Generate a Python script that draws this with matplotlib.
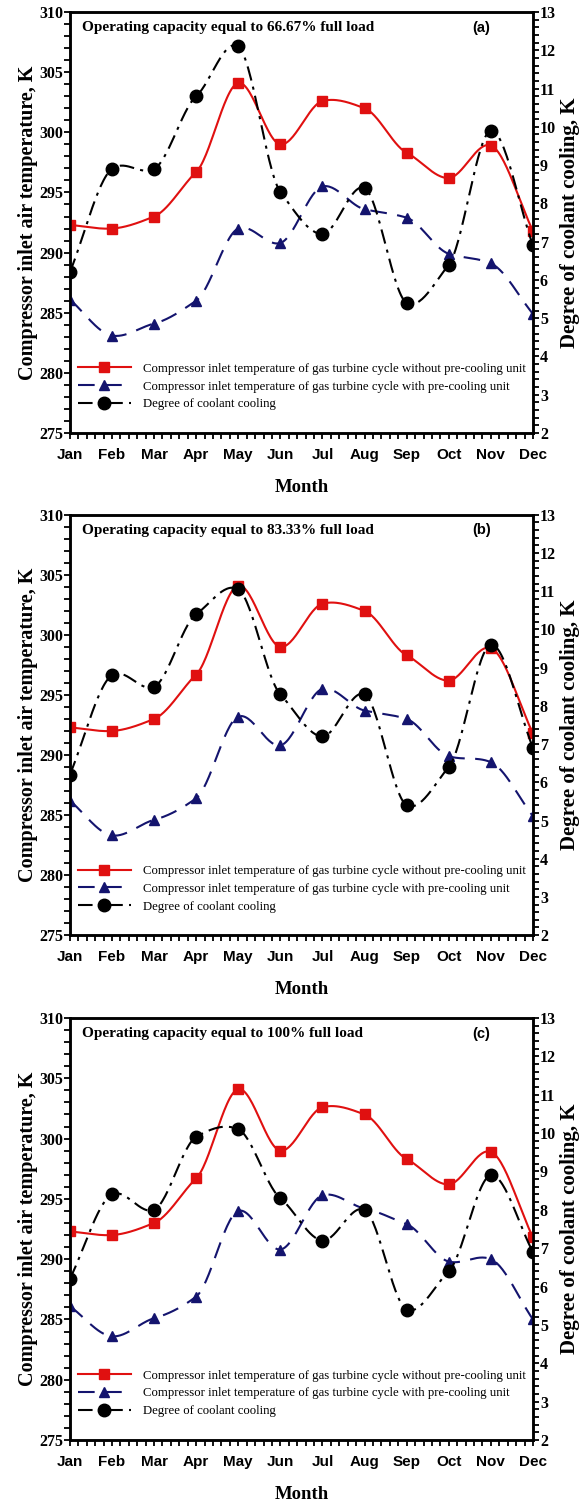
import matplotlib
matplotlib.use("Agg")
import matplotlib.pyplot as plt
import numpy as np
from matplotlib.ticker import MultipleLocator

months = ["Jan", "Feb", "Mar", "Apr", "May", "Jun", "Jul", "Aug", "Sep", "Oct", "Nov", "Dec"]
x = np.arange(1, 13)

# compressor inlet temperature without pre-cooling (same in all panels)
t_without = [292.3, 292.0, 293.0, 296.7, 304.1, 299.0, 302.6, 302.0, 298.3, 296.2, 298.9, 291.8]

# with pre-cooling unit
t_with_a = [286.1, 283.1, 284.1, 286.0, 292.0, 290.8, 295.5, 293.6, 292.9, 289.9, 289.1, 284.9]
t_with_b = [286.2, 283.3, 284.6, 286.4, 293.2, 290.8, 295.5, 293.7, 293.0, 289.9, 289.4, 284.9]
t_with_c = [286.1, 283.6, 285.1, 286.9, 294.0, 290.8, 295.3, 294.2, 292.9, 289.8, 290.0, 285.0]

# degree of coolant cooling
cool_a = [6.2, 8.9, 8.9, 10.8, 12.1, 8.3, 7.2, 8.4, 5.4, 6.4, 9.9, 6.9]
cool_b = [6.2, 8.8, 8.5, 10.4, 11.05, 8.3, 7.2, 8.3, 5.4, 6.4, 9.6, 6.9]
cool_c = [6.2, 8.4, 8.0, 9.9, 10.1, 8.3, 7.2, 8.0, 5.4, 6.4, 8.9, 6.9]

titles = ["Operating capacity equal to 66.67% full load",
          "Operating capacity equal to 83.33% full load",
          "Operating capacity equal to 100% full load"]
tags = ["(a)", "(b)", "(c)"]

RED = "#e01010"
NAVY = "#14146e"
SERIF = "Liberation Serif"
SANS = "Liberation Sans"


def smooth(xs, ys, c=0.6, n=30):
    # cardinal spline (Hermite segments) through the data points
    xs = np.asarray(xs, float)
    ys = np.asarray(ys, float)
    m = np.zeros_like(ys)
    m[1:-1] = c * (ys[2:] - ys[:-2]) / (xs[2:] - xs[:-2])
    m[0] = (ys[1] - ys[0]) / (xs[1] - xs[0])
    m[-1] = (ys[-1] - ys[-2]) / (xs[-1] - xs[-2])
    xo, yo = [], []
    for i in range(len(xs) - 1):
        h = xs[i + 1] - xs[i]
        t = np.linspace(0, 1, n, endpoint=(i == len(xs) - 2))
        h00 = 2 * t ** 3 - 3 * t ** 2 + 1
        h10 = t ** 3 - 2 * t ** 2 + t
        h01 = -2 * t ** 3 + 3 * t ** 2
        h11 = t ** 3 - t ** 2
        xo.append(xs[i] + t * h)
        yo.append(h00 * ys[i] + h10 * h * m[i] + h01 * ys[i + 1] + h11 * h * m[i + 1])
    return np.concatenate(xo), np.concatenate(yo)


fig = plt.figure(figsize=(5.87, 15.01), dpi=100)
boxes = [(0.119, 0.7115, 0.789, 0.2805),
         (0.119, 0.377, 0.789, 0.280),
         (0.119, 0.0406, 0.789, 0.2812)]
withs = [t_with_a, t_with_b, t_with_c]
cools = [cool_a, cool_b, cool_c]

for k in range(3):
    ax = fig.add_axes(boxes[k])
    ax2 = ax.twinx()

    xs, ys = smooth(x, t_without)
    ax.plot(xs, ys, color=RED, lw=1.5, zorder=3)
    ax.plot(x, t_without, ls="none", marker="s", ms=6.5, color=RED, zorder=4)

    xs, ys = smooth(x, withs[k])
    ax.plot(xs, ys, color=NAVY, lw=1.5, dashes=(8, 5), zorder=3)
    ax.plot(x, withs[k], ls="none", marker="^", ms=6.5, color=NAVY, zorder=4)

    xs, ys = smooth(x, cools[k])
    ax2.plot(xs, ys, color="black", lw=1.5, dashes=(7, 3, 1.5, 3), zorder=3)
    ax2.plot(x, cools[k], ls="none", marker="o", ms=9, color="black", zorder=4)

    ax.set_xlim(1, 12)
    ax.set_ylim(275, 310)
    ax2.set_ylim(2, 13)

    ax.yaxis.set_major_locator(MultipleLocator(5))
    ax.yaxis.set_minor_locator(MultipleLocator(1))
    ax2.yaxis.set_major_locator(MultipleLocator(1))
    ax2.yaxis.set_minor_locator(MultipleLocator(0.2))
    ax.set_xticks(x)
    ax.xaxis.set_minor_locator(MultipleLocator(0.2))
    ax.set_xticklabels(months, fontfamily=SANS, fontweight="bold", fontsize=11)

    for a_ in (ax, ax2):
        a_.tick_params(which="both", direction="out", width=1.3, length=4)
        for s in a_.spines.values():
            s.set_linewidth(1.8)
    ax.tick_params(axis="x", pad=7)
    ax.tick_params(axis="y", pad=1)
    ax2.tick_params(axis="y", pad=1)

    for lab in ax.get_yticklabels() + ax2.get_yticklabels():
        lab.set_fontfamily(SERIF)
        lab.set_fontweight("bold")
        lab.set_fontsize(11.5)

    ax.set_ylabel("Compressor inlet air temperature, K", fontfamily=SERIF,
                  fontweight="bold", fontsize=14.5, labelpad=1)
    ax2.set_ylabel("Degree of coolant cooling, K", fontfamily=SERIF,
                   fontweight="bold", fontsize=15, labelpad=3)
    ax.set_xlabel("Month", fontfamily=SERIF, fontweight="bold", fontsize=13.5, labelpad=12)

    ax.text(0.026, 0.963, titles[k], transform=ax.transAxes, fontfamily=SERIF,
            fontweight="bold", fontsize=11, va="center", ha="left")
    ax.text(0.868, 0.963, tags[k], transform=ax.transAxes, fontfamily=SANS,
            fontweight="bold", fontsize=10.5, va="center", ha="left")

    h1 = plt.Line2D([], [], color=RED, lw=1.5, marker="s", ms=6.5)
    h2 = plt.Line2D([], [], color=NAVY, lw=1.5, dashes=(8, 5), marker="^", ms=6.5)
    h3 = plt.Line2D([], [], color="black", lw=1.5, dashes=(7, 3, 1.5, 3), marker="o", ms=9)
    ax2.legend([h1, h2, h3],
               ["Compressor inlet temperature of gas turbine cycle without pre-cooling unit",
                "Compressor inlet temperature of gas turbine cycle with pre-cooling unit",
                "Degree of coolant cooling"],
               loc="upper left", bbox_to_anchor=(0.0, 0.185), frameon=False,
               prop={"family": SERIF, "size": 9.2}, handlelength=4.2,
               labelspacing=0.45, borderaxespad=0.2, handletextpad=0.9)

fig.savefig("out.png", dpi=100)
plt.close(fig)
